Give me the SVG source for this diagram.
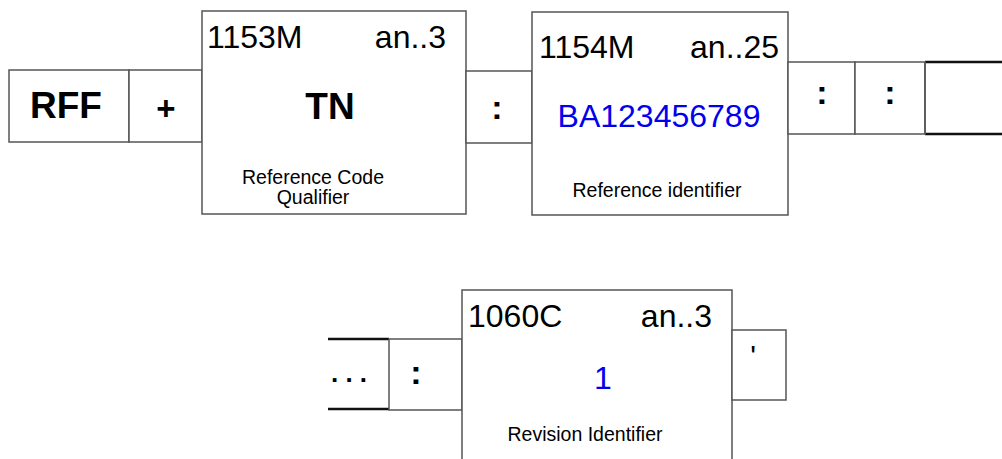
<svg xmlns="http://www.w3.org/2000/svg" width="1002" height="459" viewBox="0 0 1002 459">
<style>
.box{fill:#fff;stroke:#555;stroke-width:1.5}
.open{fill:none;stroke:#111;stroke-width:2.5}
.t{font-family:"Liberation Sans",Arial,sans-serif;fill:#000}
.big{font-size:32px}
.bold{font-weight:bold}
.lab{font-size:19.5px}
.val{fill:#0000ee;font-size:32px}
.mid{text-anchor:middle}
.end{text-anchor:end}
.sep{font-weight:bold;font-size:34px;text-anchor:middle}
</style>
<rect width="1002" height="459" fill="#fff"/>
<g id="connectors">
<line class="open" x1="925" y1="62" x2="1002" y2="62"/>
<line class="open" x1="925" y1="134" x2="1002" y2="134"/>
<line class="open" x1="328" y1="339" x2="389" y2="339"/>
<line class="open" x1="328" y1="409" x2="389" y2="409"/>
</g>
<g id="rff"><rect class="box" x="9" y="70" width="120" height="72"/><text class="t bold mid" x="66" y="118" font-size="37">RFF</text></g>
<g id="plus"><rect class="box" x="129" y="70" width="73" height="72"/><text class="t bold mid" x="166" y="120" font-size="33">+</text></g>
<g id="e1153"><rect class="box" x="202" y="11" width="264" height="203"/>
<text class="t big" x="207" y="48">1153M</text><text class="t big end" x="446" y="48">an..3</text>
<text class="t bold mid" x="330" y="119" font-size="37">TN</text>
<text class="t lab mid" x="313" y="184">Reference Code</text><text class="t lab mid" x="313" y="204">Qualifier</text></g>
<g id="sep1"><rect class="box" x="466" y="71" width="66" height="72"/><text class="t sep" x="497" y="119">:</text></g>
<g id="e1154"><rect class="box" x="532" y="12" width="256" height="203"/>
<text class="t big" x="539" y="58">1154M</text><text class="t big end" x="779" y="58">an..25</text>
<text class="t val mid" x="659" y="127">BA123456789</text>
<text class="t lab mid" x="657" y="197">Reference identifier</text></g>
<g id="sep2"><rect class="box" x="788" y="62" width="67" height="72"/><text class="t sep" x="822" y="104">:</text></g>
<g id="sep3"><rect class="box" x="855" y="62" width="70" height="72"/><text class="t sep" x="890" y="104">:</text></g>
<g id="cont1"><line x1="925" y1="62" x2="925" y2="134" stroke="#555" stroke-width="1.5"/></g>
<g id="cont2"><text class="t bold mid" x="349" y="382" font-size="26" xml:space="preserve">. . .</text></g>
<g id="sep4"><rect class="box" x="389" y="339" width="73" height="71"/><text class="t sep" x="416" y="384">:</text></g>
<g id="e1060"><rect class="box" x="462" y="290" width="270" height="175"/>
<text class="t big" x="468" y="327">1060C</text><text class="t big end" x="712" y="327">an..3</text>
<text class="t val mid" x="603" y="389">1</text>
<text class="t lab mid" x="585" y="441">Revision Identifier</text></g>
<g id="term"><rect class="box" x="732" y="330" width="54" height="70"/><text class="t mid" x="753" y="366" font-size="30">'</text></g>
</svg>
